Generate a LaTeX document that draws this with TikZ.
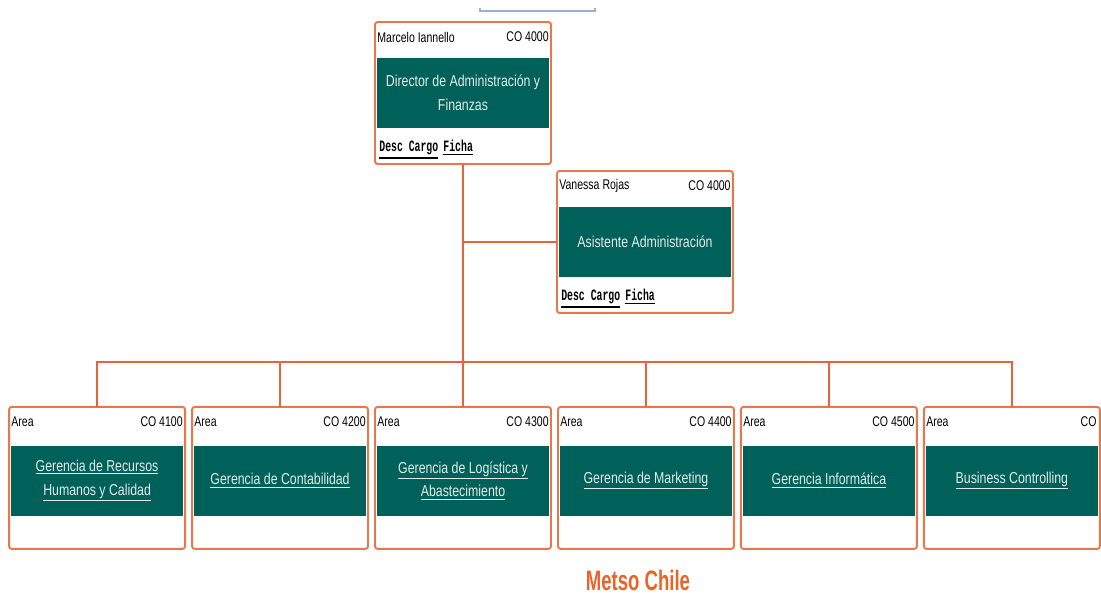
\documentclass[tikz,border=0pt]{standalone}
\usepackage{fontspec}
\setmainfont{Liberation Sans}
\newfontfamily\cardfont[FakeStretch=0.75]{Liberation Sans}
\newfontfamily\bandfont[FakeStretch=0.78]{Liberation Sans}
\newfontfamily\linkfont[FakeStretch=0.62]{Liberation Mono}
\newfontfamily\titlefont[FakeStretch=0.66]{Liberation Sans}
\usetikzlibrary{positioning}

\definecolor{framecol}{HTML}{E8784A}
\definecolor{linecol}{HTML}{E4643C}
\definecolor{tealcol}{HTML}{00615A}
\definecolor{bandtext}{HTML}{E4ECE6}
\definecolor{metso}{HTML}{E8652A}
\definecolor{topline}{HTML}{9AB0CC}

% underlined link text
\newcommand{\ulink}[2][0.9pt]{\vtop{\hbox{#2}\kern1pt\hrule height #1}}

\begin{document}
\begin{tikzpicture}[
    x=0.02cm, y=-0.02cm,
    card/.style={rectangle, draw=framecol, line width=1.1pt, rounded corners=1.5pt, fill=white,
                 minimum width=3.52cm, minimum height=2.84cm, inner sep=0pt, outer sep=0pt},
    band/.style={rectangle, fill=tealcol, minimum width=3.44cm, minimum height=1.4cm, inner sep=0pt,
                 text=bandtext, align=center, font=\bandfont\fontsize{9}{13.5}\selectfont},
    head/.style={inner sep=0pt, font=\cardfont\fontsize{8}{9}\selectfont},
    links/.style={inner sep=0pt, font=\linkfont\bfseries\fontsize{9}{10}\selectfont},
    wire/.style={draw=linecol, line width=0.8pt}
]
\useasboundingbox (0,0) rectangle (1101,595);

% Top line
\draw[topline, line width=0.9pt] (480,8) -- (480,11) -- (595,11) -- (595,8);

% Director and assistant
\node[card] (director) at (463,93) {};
\node[card] (asistente) [below right=0.14cm and 0.12cm of director.south east] {};

% Areas
\node[card] (area3) [below=4.86cm of director] {};
\node[card] (area2) [left=0.14cm of area3] {};
\node[card] (area1) [left=0.14cm of area2] {};
\node[card] (area4) [right=0.14cm of area3] {};
\node[card] (area5) [right=0.14cm of area4] {};
\node[card] (area6) [right=0.14cm of area5] {};

% Bands
\node[band] (dirband) at (director.center) {Director de Administración y\\Finanzas};
\node[band] (asiband) at (asistente.center) {Asistente Administración};
\node[band] (band1) at ([yshift=-1.5]area1.center) {\ulink[0.5pt]{Gerencia de Recursos}\\\ulink[0.5pt]{Humanos y Calidad}};
\node[band] (band2) at ([yshift=-1.5]area2.center) {\ulink[0.5pt]{Gerencia de Contabilidad}};
\node[band] (band3) at ([yshift=-1.5]area3.center) {\ulink[0.5pt]{Gerencia de Logística y}\\\ulink[0.5pt]{Abastecimiento}};
\node[band] (band4) at ([yshift=-1.5]area4.center) {\ulink[0.5pt]{Gerencia de Marketing}};
\node[band] (band5) at ([yshift=-1.5]area5.center) {\ulink[0.5pt]{Gerencia Informática}};
\node[band] (band6) at ([yshift=-1.5]area6.center) {\ulink[0.5pt]{Business Controlling}};

% Headers
\node[head, anchor=west] (dirname) at ([shift={(2,15)}]director.north west) {Marcelo Iannello};
\node[head, anchor=east] (dircode) at ([shift={(-2,15)}]director.north east) {CO 4000};
\node[head, anchor=west] (asiname) at ([shift={(2,15)}]asistente.north west) {Vanessa Rojas};
\node[head, anchor=east] (asicode) at ([shift={(-2,15)}]asistente.north east) {CO 4000};
\foreach \n in {1,...,6}
    \node[head, anchor=west] (areaname\n) at ([shift={(2,15)}]area\n.north west) {Area};
\node[head, anchor=east] (code1) at ([shift={(-2,15)}]area1.north east) {CO 4100};
\node[head, anchor=east] (code2) at ([shift={(-2,15)}]area2.north east) {CO 4200};
\node[head, anchor=east] (code3) at ([shift={(-2,15)}]area3.north east) {CO 4300};
\node[head, anchor=east] (code4) at ([shift={(-2,15)}]area4.north east) {CO 4400};
\node[head, anchor=east] (code5) at ([shift={(-2,15)}]area5.north east) {CO 4500};
\node[head, anchor=east] (code6) at ([shift={(-3,15)}]area6.north east) {CO};

% Links
\node[links, anchor=base west] (dirlinks) at ([shift={(4,-12)}]director.south west)
    {\ulink{Desc Cargo}\hspace{3pt}\ulink{Ficha}};
\node[links, anchor=base west] (asilinks) at ([shift={(4,-12)}]asistente.south west)
    {\ulink{Desc Cargo}\hspace{3pt}\ulink{Ficha}};

% Connectors
\coordinate (bus) at ([yshift=0.9cm]area3.north);
\draw[wire] (director.south) -- (area3.north);
\draw[wire] (director.south |- asistente.west) -- (asistente.west);
\draw[wire] (area1.north) |- (bus) -| (area6.north);
\foreach \n in {2,4,5}
    \draw[wire] (area\n.north) -- (area\n.north |- bus);

% Title
\node[text=metso, font=\titlefont\bfseries\fontsize{16}{18}\selectfont] (title) at (638,580) {Metso Chile};

\end{tikzpicture}
\end{document}
